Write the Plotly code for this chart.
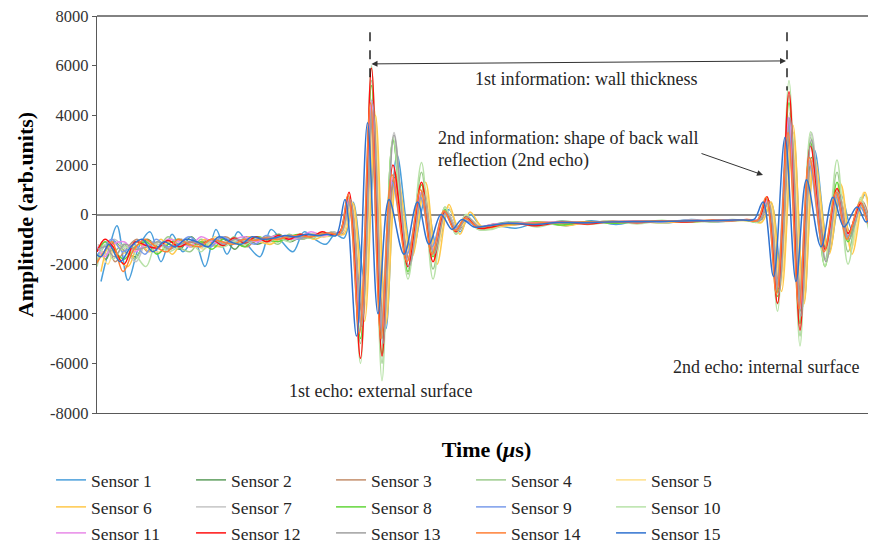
import plotly.graph_objects as go

# ---------------- DATA ----------------
# shared sampling instants (arbitrary time units, plot spans 0..779)
time_grid = [0, 8, 16, 27, 38, 49, 60, 71, 82, 93, 104, 115, 126, 137, 148, 159, 170, 181, 192, 203, 214, 225, 234, 243,
             252, 263.5, 274.5, 285, 296, 311, 324.5, 336, 348, 359, 369, 381,
             395, 415, 440, 465, 490, 515, 540, 565, 590, 615, 635, 650,
             661, 670, 680.5, 692, 703, 713.5, 728, 740, 751, 764, 773, 779]

sensor_names = ["Sensor %d" % i for i in range(1, 16)]

# arrival lag of each sensor relative to the grid (same time units)
sensor_lag = [4, 1, 2, 0, 3, 4, 1, 0, -1, 0, 0, 0, 1, -1, -4]

s1 = [-2700, -1400, -450, -2650, -1300, -700, -1900, -800, -1500, -1000, -2100, -600, -1600, -700, -1300, -1700, -600, -1100, -1500, -700, -1000, -1200, -800, -950,
      500, -2600, 2700, -4600, 2400, -1500, 600, -1300, 200, -700, 0, -500,
      -450, -550, -300, -450, -250, -400, -250, -350, -200, -300, -220, -250,
      -200, 450, -2400, 3300, -3500, 2600, -1500, 800, -600, 800, -400, 300]
s2 = [-1300, -1800, -1100, -1500, -1700, -1000, -1300, -1200, -1400, -900, -1300, -1100, -1000, -1400, -900, -1200, -1000, -800, -1100, -900, -800, -850, -700, -750,
      600, -4500, 4600, -5000, 1500, -1800, 900, -1500, 0, -600, -200, -500,
      -400, -300, -380, -330, -300, -280, -320, -260, -280, -250, -230, -220,
      -200, 500, -3000, 3800, -3900, 2300, -1400, 900, -800, 400, -400, 0]
s3 = [-1600, -1200, -1900, -1400, -1000, -1500, -1100, -1400, -1000, -1300, -1100, -1200, -900, -1150, -1300, -950, -1100, -1000, -850, -1000, -800, -900, -750, -800,
      500, -4200, 4300, -4800, 1700, -1900, 1000, -1400, 100, -650, -150, -500,
      -380, -420, -300, -350, -320, -250, -300, -280, -240, -270, -220, -230,
      -250, 550, -2900, 3700, -3800, 2200, -1300, 800, -700, 500, -350, 50]
s4 = [-1900, -1100, -1500, -1200, -1800, -1100, -1400, -900, -1300, -1500, -1000, -1200, -1300, -900, -1200, -1000, -950, -1200, -800, -1000, -900, -750, -850, -700,
      700, -5200, 5400, -6000, 3000, -2400, 1700, -2200, 300, -800, 0, -600,
      -550, -300, -450, -250, -400, -300, -250, -350, -220, -300, -200, -250,
      -300, 600, -3600, 4800, -4900, 3100, -1800, 1700, -1500, 600, -600, -100]
s5 = [-1400, -2000, -1200, -1600, -1100, -1400, -1500, -1000, -1200, -1100, -1400, -900, -1200, -1000, -1100, -900, -1200, -850, -1000, -950, -750, -900, -800, -700,
      500, -4000, 4200, -4500, 1400, -1700, 1100, -1600, 300, -500, -200, -450,
      -500, -350, -420, -300, -380, -250, -300, -330, -250, -280, -260, -200,
      -350, 450, -2900, 3500, -3700, 2400, -1500, 1300, -1400, 900, -500, 200]
s6 = [-2300, -1300, -1700, -2100, -1200, -1500, -1000, -1600, -1100, -1300, -1000, -1300, -1100, -1200, -900, -1100, -1200, -900, -950, -850, -1000, -800, -750, -800,
      450, -4300, 4000, -4400, 1600, -1700, 1300, -2000, 400, -800, 100, -500,
      -520, -400, -300, -450, -300, -350, -250, -300, -300, -250, -240, -250,
      -300, 500, -3100, 3600, -3600, 2300, -1600, 1200, -1600, 900, -700, 300]
s7 = [-1200, -1600, -1000, -1400, -1900, -1100, -1200, -1300, -1000, -1200, -1300, -1000, -1100, -1200, -950, -1000, -1100, -900, -950, -800, -900, -850, -700, -750,
      550, -4400, 4700, -5300, 3300, -2200, 1000, -1500, 200, -600, -100, -500,
      -420, -330, -360, -300, -330, -270, -300, -260, -250, -260, -230, -220,
      -250, 550, -3100, 4100, -4300, 3300, -1900, 1000, -900, 500, -450, 0]
s8 = [-1500, -1100, -1400, -1800, -1300, -1100, -1600, -1200, -1000, -1300, -1100, -1400, -1000, -1100, -1300, -900, -1000, -1100, -900, -800, -950, -800, -850, -700,
      650, -5000, 5200, -5600, 3000, -2300, 1200, -1700, 200, -700, -100, -550,
      -450, -380, -300, -420, -280, -350, -300, -240, -300, -260, -220, -230,
      -300, 600, -3300, 4500, -4400, 2900, -2100, 1300, -1100, 400, -500, -50]
s9 = [-1700, -1300, -1000, -1500, -1200, -1600, -1000, -1300, -1200, -900, -1200, -1300, -900, -1100, -1000, -1200, -850, -1000, -900, -1000, -800, -850, -750, -800,
      750, -4700, 4300, -4600, 1300, -1600, 700, -1300, 50, -550, -250, -480,
      -430, -330, -400, -280, -350, -300, -270, -300, -230, -260, -220, -210,
      -250, 650, -3000, 3900, -3500, 2000, -1500, 700, -900, 300, -300, 100]
s10 = [-2100, -1200, -1800, -1300, -1600, -2100, -1100, -1500, -1300, -1100, -1500, -1000, -1300, -1100, -1200, -1000, -1100, -950, -1100, -850, -950, -800, -850, -750,
       700, -6000, 6000, -6700, 3100, -2600, 2100, -2600, 300, -800, 0, -600,
       -600, -300, -500, -300, -350, -250, -380, -250, -300, -220, -260, -230,
       -300, 700, -3900, 5400, -5300, 3340, -2100, 2200, -2000, 700, -700, -200]
s11 = [-1300, -1700, -1200, -1100, -1500, -1200, -1400, -1000, -1100, -1300, -900, -1100, -1200, -1000, -900, -1100, -950, -850, -1000, -900, -700, -850, -800, -700,
       600, -4400, 4600, -4700, 1500, -1800, 900, -1400, 100, -600, -150, -500,
       -400, -350, -330, -300, -320, -280, -260, -280, -240, -250, -220, -210,
       -200, 550, -2900, 3900, -3800, 2200, -1400, 800, -800, 400, -400, 0]
s12 = [-1500, -1000, -1300, -2000, -1100, -1250, -1350, -1050, -1300, -1100, -1200, -1000, -1250, -950, -1150, -900, -1100, -850, -1000, -800, -900, -700, -800, -700,
       900, -5800, 5900, -5700, 2000, -2100, 1300, -1900, 100, -700, -100, -550,
       -500, -350, -450, -300, -380, -280, -330, -260, -300, -230, -250, -200,
       -250, 720, -3580, 4950, -4660, 2760, -1400, 1050, -760, 450, -300, -100]
s13 = [-1400, -1300, -1700, -1200, -1400, -1300, -1100, -1400, -1200, -1100, -1200, -1000, -1200, -1000, -1100, -1000, -900, -1000, -850, -950, -850, -800, -750, -750,
       600, -4500, 4500, -5200, 3200, -2100, 900, -1600, 100, -650, -100, -500,
       -420, -340, -380, -310, -330, -280, -300, -270, -260, -250, -240, -220,
       -250, 500, -3200, 3900, -4100, 3000, -1900, 900, -1000, 400, -400, 0]
s14 = [-2000, -1500, -1100, -2300, -1400, -1000, -1300, -1500, -1000, -1200, -1300, -1000, -1100, -1200, -1000, -1050, -950, -1000, -900, -850, -900, -800, -750, -800,
       800, -4800, 4500, -5000, 1600, -1900, 1000, -1600, 150, -650, -150, -500,
       -450, -380, -340, -320, -300, -300, -270, -270, -250, -240, -230, -220,
       -250, 700, -3200, 3300, -3800, 2300, -1500, 900, -1000, 500, -400, 50]
s15 = [-1500, -1700, -1200, -1900, -1300, -1000, -1500, -1100, -1300, -1000, -1100, -1300, -900, -1100, -1200, -900, -1000, -950, -850, -900, -800, -850, -800, -850,
       600, -4900, 3700, -4000, 600, -1600, 500, -1200, 0, -600, -200, -500,
       -450, -350, -400, -320, -330, -300, -280, -280, -260, -250, -230, -220,
       -200, 500, -2500, 3100, -2700, 1400, -1300, 700, -500, 300, -300, 0]

sensor_values = [s1, s2, s3, s4, s5, s6, s7, s8, s9, s10, s11, s12, s13, s14, s15]

sensor_colors = ["#4A9FDB", "#5E9E5E", "#C48E6C", "#9DCB8C", "#FFE08A",
                 "#FFC84A", "#C4C4C4", "#62D63A", "#7A9CEB", "#B8E2A8",
                 "#E88AE8", "#FF1010", "#A0A0A0", "#FF7F35", "#2F72D0"]

y_tickvals = [-8000, -6000, -4000, -2000, 0, 2000, 4000, 6000, 8000]
y_ticktext = ["-8000", "-6000", "-4000", "-2000", "0", "2000", "4000", "6000", "8000"]

# ---------------- FIGURE ----------------
SERIF = "Liberation Serif, Times New Roman, serif"
legend_ids = ["legend", "legend2", "legend3"]

fig = go.Figure()
for i, (name, lag, vals, col) in enumerate(zip(sensor_names, sensor_lag, sensor_values, sensor_colors)):
    fig.add_trace(go.Scatter(
        x=[t + lag for t in time_grid], y=vals, name=name, mode="lines",
        legend=legend_ids[i // 5],
        line=dict(color=col, width=1.5, shape="spline", smoothing=1.0),
        hoverinfo="skip"))

legend_style = dict(orientation="h", x=-0.059, xanchor="left", yanchor="middle",
                    entrywidth=95, entrywidthmode="pixels",
                    font=dict(family=SERIF, size=17.5, color="#262626"),
                    itemwidth=30, bgcolor="rgba(0,0,0,0)")

# page body has an 8px margin: figure is 868x535 so the plot sits where the reference's does
fig.update_layout(
    width=868, height=535,
    margin=dict(l=89, r=0, t=8, b=130, autoexpand=False),
    paper_bgcolor="white", plot_bgcolor="white",
    font=dict(family=SERIF, size=16, color="#262626"),
    showlegend=True,
    legend=dict(legend_style, y=-0.1688),
    legend2=dict(legend_style, y=-0.2368),
    legend3=dict(legend_style, y=-0.3023),
    xaxis=dict(range=[0, 779], showticklabels=False, ticks="", showgrid=False,
               zeroline=False, showline=True, linecolor="#595959", linewidth=1.3,
               title=dict(text="<b>Time (<i>μ</i>s)</b>", font=dict(family=SERIF, size=22, color="#000000"),
                          standoff=28)),
    yaxis=dict(range=[-8000, 8000], tickvals=y_tickvals, ticktext=y_ticktext,
               ticks="outside", ticklen=4, tickcolor="#595959", ticklabeloverflow="allow",
               tickfont=dict(family=SERIF, size=16.5, color="#333333"),
               showgrid=False, zeroline=True, zerolinecolor="#8C8C8C", zerolinewidth=1.5,
               showline=True, linecolor="#595959", linewidth=1.3,
               title=dict(text="<b>Amplitude (arb.units)</b>", font=dict(family=SERIF, size=22, color="#000000"),
                          standoff=10)),
)

# top border of the plot frame
fig.add_shape(type="line", xref="paper", yref="paper", x0=0, x1=1, y0=1, y1=1,
              line=dict(color="#595959", width=1.3))

# dashed markers at the two main peaks
fig.add_shape(type="line", x0=273, x1=273, y0=7350, y1=5500, line=dict(color="black", width=1.3, dash="dash"))
fig.add_shape(type="line", x0=690, x1=690, y0=7350, y1=5000, line=dict(color="black", width=1.3, dash="dash"))

# double arrow: wall thickness
fig.add_annotation(x=689, y=6190, ax=273, ay=6069, axref="x", ayref="y", xref="x", yref="y",
                   text="", showarrow=True, arrowhead=2, startarrowhead=2, arrowside="end+start",
                   arrowsize=1.2, startarrowsize=1.2, arrowwidth=1, arrowcolor="#333333")
# arrow to second echo
fig.add_annotation(x=666, y=1593, ax=603, ay=2480, axref="x", ayref="y", xref="x", yref="y",
                   text="", showarrow=True, arrowhead=2, arrowsize=1.2, arrowwidth=1, arrowcolor="#333333")

for txt, x, y in [("1st information: wall thickness", 376, 5464),
                  ("2nd information: shape of back wall", 339, 3085),
                  ("reflection (2nd echo)", 339, 2157),
                  ("1st echo: external surface", 190, -7117),
                  ("2nd echo: internal surface", 574, -6149)]:
    fig.add_annotation(x=x, y=y, text=txt, showarrow=False, xanchor="left", yanchor="middle",
                       font=dict(family=SERIF, size=18, color="#262626"))

fig.write_html("out.html")
